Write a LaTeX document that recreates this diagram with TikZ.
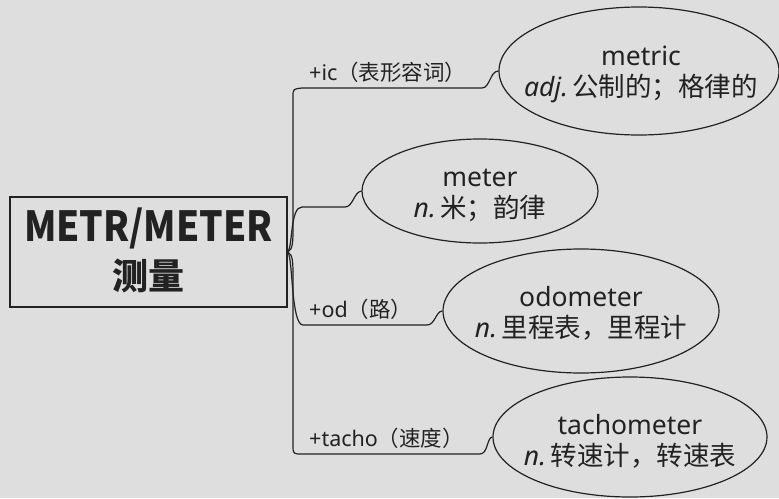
\documentclass[tikz,border=0pt]{standalone}
\usepackage{fontspec}
\setmainfont{Noto Sans}
\newfontfamily\cjk{Noto Sans CJK SC}
\usetikzlibrary{shapes.geometric}
\definecolor{bg}{HTML}{DEDEDE}
\definecolor{ink}{HTML}{222222}
\tikzset{
  word/.style={draw=ink, line width=1.2pt, ellipse, inner sep=0pt},
  wtext/.style={inner sep=0pt, align=center, text=ink, font=\fontsize{26.5}{33}\selectfont},
  branch/.style={draw=ink, line width=1.2pt},
  lbl/.style={anchor=south west, inner sep=1pt, text=ink, font=\fontsize{21.5}{22}\selectfont},
  rootbox/.style={draw=ink, line width=1.6pt, rectangle, minimum width=277pt, minimum height=110pt,
    align=center, text=ink, inner sep=0pt}
}
\begin{document}
\begin{tikzpicture}[x=1pt,y=-1pt]
\fill[bg] (0,0) rectangle (779,498);
\useasboundingbox (0,0) rectangle (779,498);

\node[rootbox] (root) at (148.5,252) {};
\node[text=ink, font=\cjk\bfseries\fontsize{37}{37}\selectfont, yscale=1.12] (t1) at (148.5,228) {METR/METER};
\node[text=ink, font=\cjk\bfseries\fontsize{36}{36}\selectfont] (t2) at (148.5,276) {测量};

\node[word, minimum width=280pt, minimum height=128pt] (e1) at (639,71) {};
\node[word, minimum width=236pt, minimum height=104pt] (e2) at (480,191) {};
\node[word, minimum width=276pt, minimum height=124pt] (e3) at (581,311) {};
\node[word, minimum width=274pt, minimum height=120pt] (e4) at (630,437) {};

\node[wtext] (w1) at (641,74) {metric\\[-2pt]\textit{adj.}\,\cjk 公制的；格律的};
\node[wtext] (w2) at (480,195) {meter\\[-2pt]\textit{n.}\,\cjk 米；韵律};
\node[wtext] (w3) at (581,313) {odometer\\[-2pt]\textit{n.}\,\cjk 里程表，里程计};
\node[wtext] (w4) at (630,441) {tachometer\\[-2pt]\textit{n.}\,\cjk 转速计，转速表};

% trunk to top
\draw[branch] (root.east) .. controls (293,250) and (293,240) .. (293,228) -- (293,97)
  .. controls (293,89) .. (302,88) -- (482,88) .. controls (490,88) and (490,71) .. (e1.west);
% meter
\draw[branch] (root.east) .. controls (293,245) and (290,207) .. (302,207) -- (345,207)
  .. controls (353,207) and (354,192) .. (e2.west);
% odometer
\draw[branch] (root.east) .. controls (293,258) and (291,325) .. (303,325) -- (427,325)
  .. controls (435,325) and (436,311) .. (e3.west);
% tachometer
\draw[branch] (root.east) .. controls (293,254) and (293,264) .. (293,276) -- (293,445)
  .. controls (293,454) .. (302,454) -- (480,454) .. controls (488,454) and (487,437) .. (e4.west);

\node[lbl] (l1) at (308,84) {+ic{\cjk（表形容词）}};
\node[lbl] (l3) at (308,321) {+od{\cjk（路）}};
\node[lbl] (l4) at (308,450) {+tacho{\cjk（速度）}};
\end{tikzpicture}
\end{document}
